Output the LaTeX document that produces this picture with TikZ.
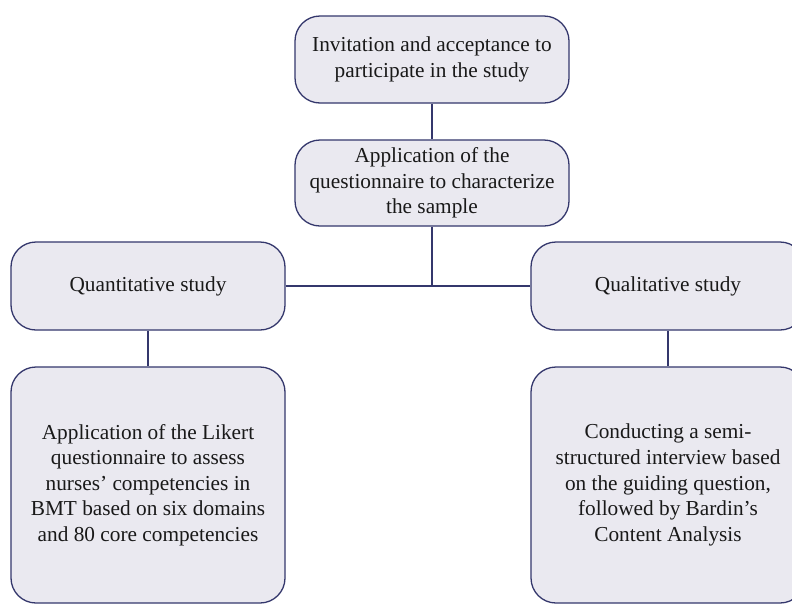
\documentclass[tikz,border=0pt]{standalone}
\usepackage{fontspec}
\setmainfont{Liberation Serif}
\definecolor{boxfill}{RGB}{234,233,240}
\definecolor{boxline}{RGB}{52,55,108}
\begin{document}
\begin{tikzpicture}[x=1pt,y=-1pt,
  flowbox/.style={draw=boxline, fill=boxfill, line width=1.3pt, rounded corners=25pt,
    minimum width=274pt, align=center, inner sep=0pt,
    font=\fontsize{21.3}{25.6}\selectfont, text=black!90},
  conn/.style={draw=boxline, line width=1.3pt}]
\useasboundingbox (0,0) rectangle (792,603);
\clip (0,0) rectangle (792,603);
\fill[white] (0,0) rectangle (792,603);
\node[flowbox, minimum height=87pt] (invite) at (432,59.5) {Invitation and acceptance to\\participate in the study};
\node[flowbox, minimum height=86pt] (quest) at (432,183) {Application of the\\questionnaire to characterize\\the sample};
\node[flowbox, minimum height=88pt] (quant) at (148,286) {Quantitative study};
\node[flowbox, minimum height=88pt] (qual) at (668,286) {Qualitative study};
\node[flowbox, minimum height=236pt] (likert) at (148,485) {Application of the Likert\\questionnaire to assess\\nurses’ competencies in\\BMT based on six domains\\and 80 core competencies};
\node[flowbox, minimum height=236pt] (interview) at (668,485) {Conducting a semi-\\structured interview based\\on the guiding question,\\followed by Bardin’s\\Content Analysis};
\coordinate (junction) at (quest.south |- quant.east);
\draw[conn] (invite) -- (quest);
\draw[conn] (quest) -- (junction);
\draw[conn] (quant) -- (qual);
\draw[conn] (quant) -- (likert);
\draw[conn] (qual) -- (interview);
\end{tikzpicture}
\end{document}
